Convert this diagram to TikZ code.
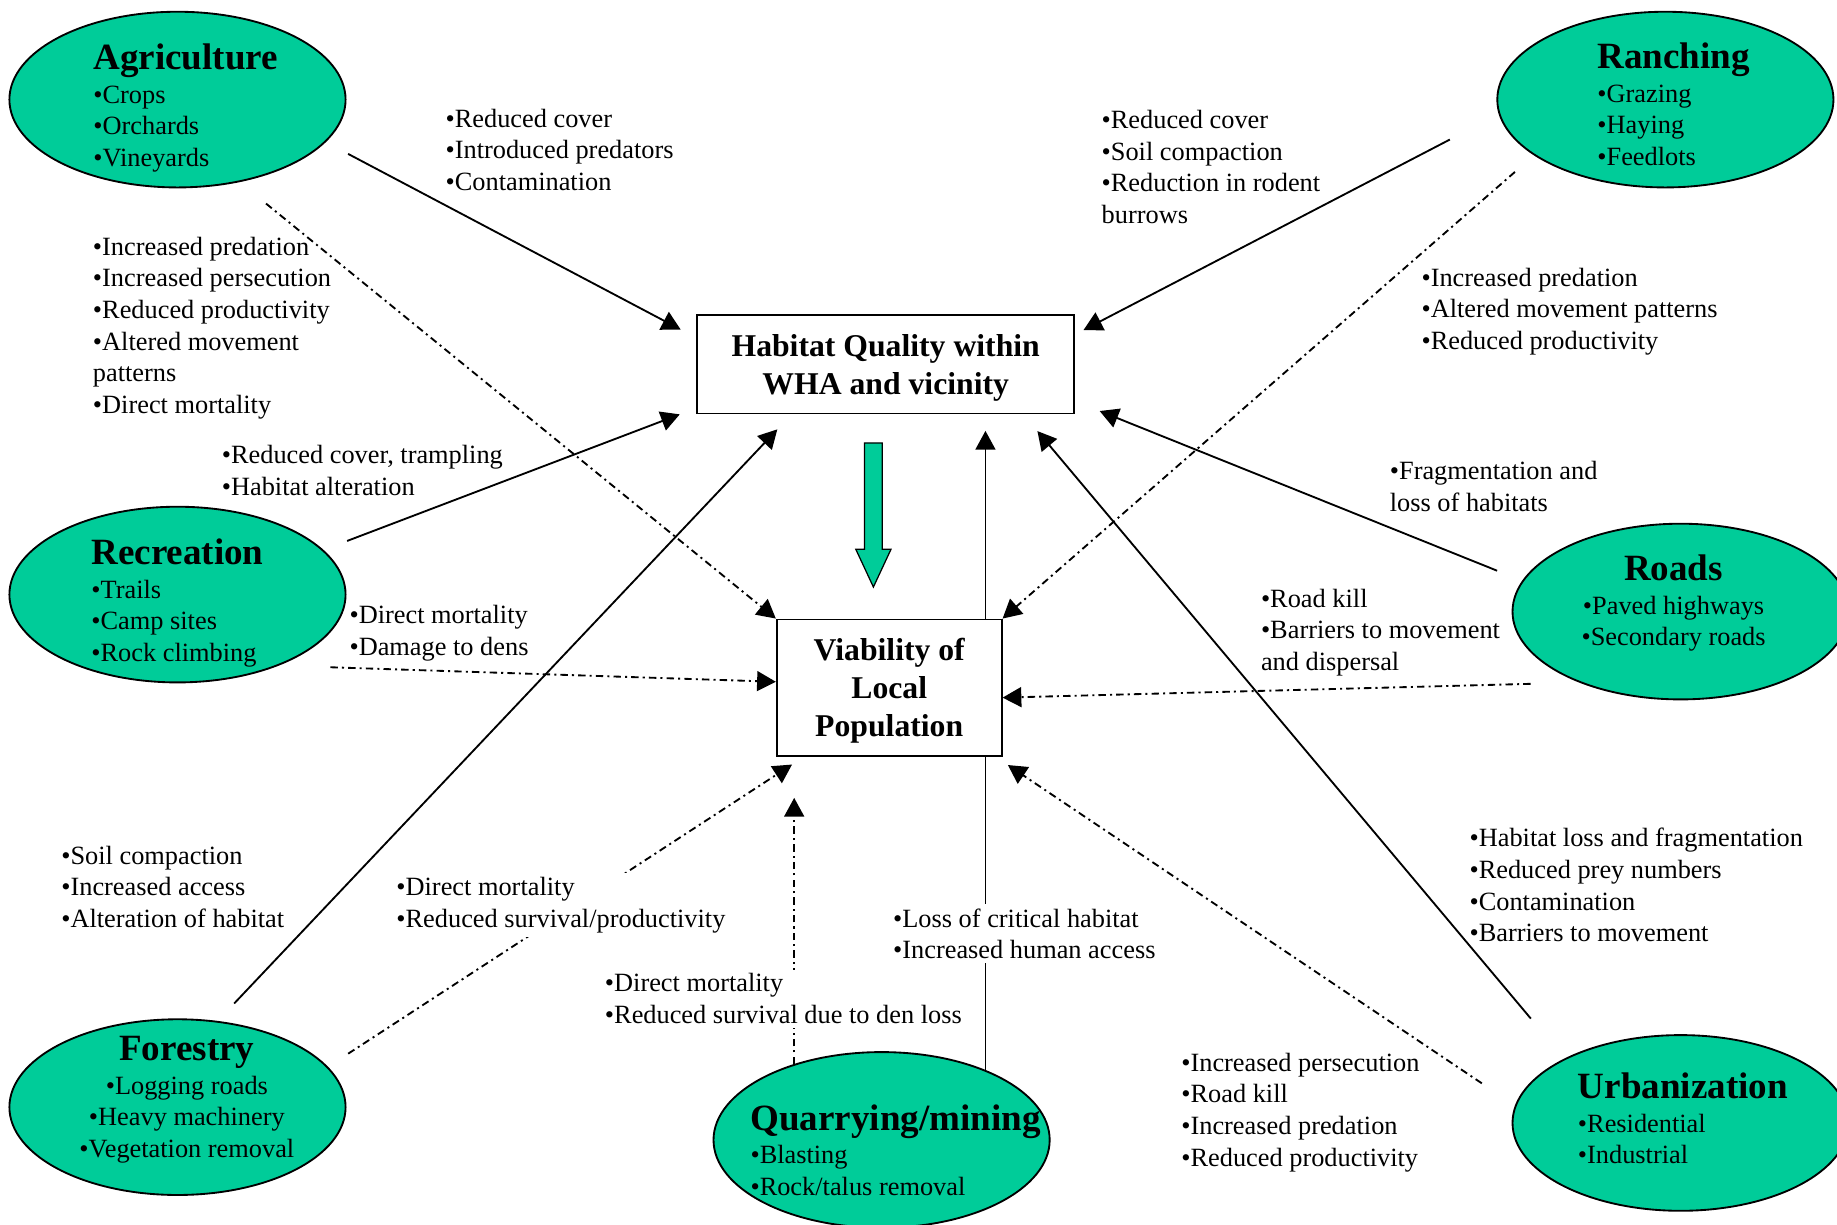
\documentclass[tikz,border=0pt]{standalone}
\usepackage{fontspec}
\setmainfont{Liberation Serif}
\usetikzlibrary{shapes.geometric,shapes.arrows,arrows.meta,backgrounds}

\definecolor{sectorgreen}{RGB}{0,204,153}
\newcommand{\sectorhead}[1]{{\fontsize{18}{18}\selectfont\bfseries #1}\\[1pt]}
\newcommand{\boxstrut}{\rule{0pt}{13.9pt}}

\begin{document}
\begin{tikzpicture}[
        x=0.02cm, y=-0.02cm,
        sector/.style={ellipse,draw,line width=0.9pt,fill=sectorgreen,
            minimum width=5.74cm,minimum height=3cm,inner sep=0pt},
        sectortext/.style={align=left,inner sep=0pt,
            font=\fontsize{12.8}{15.3}\selectfont},
        sectortextc/.style={sectortext,align=center},
        outcome/.style={rectangle,draw,line width=0.9pt,fill=white,align=center,
            inner sep=0pt,font=\fontsize{15.4}{18.3}\selectfont\bfseries},
        effect/.style={align=left,inner sep=0pt,anchor=west,
            font=\fontsize{12.8}{15.4}\selectfont},
        effectbg/.style={effect,fill=white,inner sep=2pt},
        tohab/.style={-{Triangle[length=3.2mm,width=3.4mm]},line width=0.9pt},
        toviab/.style={tohab,dash pattern=on 3.6pt off 2pt on 1pt off 2pt}
    ]
        \useasboundingbox (0,0) rectangle (1568,1045);

        % Central boxes
        \node[outcome,minimum width=6.44cm,minimum height=1.68cm] (habitat) at (756,311)
            {\boxstrut Habitat Quality within\\WHA and vicinity};
        \node[outcome,minimum width=3.84cm,minimum height=2.33cm] (viab) at (759,587)
            {\boxstrut Viability of\\Local\\Population};
        \node[single arrow,draw,fill=sectorgreen,line width=0.6pt,rotate=-90,
            minimum height=2.46cm,inner xsep=0pt,inner ysep=0.14cm,
            single arrow head extend=0.15cm,single arrow tip angle=50] (flow) at (745.5,431.5) {};

        % Land uses
        \node[sector] (agri) at (151.5,85) {};
        \node[sector] (ranch) at (1421.5,85) {};
        \node[sector] (recr) at (151.5,507.5) {};
        \node[sector] (roads) at (1434.5,522) {};
        \node[sector] (forest) at (151.5,945) {};
        \node[sector] (quarry) at (752.5,973) {};
        \node[sector] (urban) at (1434.5,958.5) {};

        \node[sectortext] (agrinote) at ([shift={(7,7)}]agri)
            {\sectorhead{Agriculture}•Crops\\•Orchards\\•Vineyards};
        \node[sectortext] (ranchnote) at ([shift={(7,4)}]ranch)
            {\sectorhead{Ranching}•Grazing\\•Haying\\•Feedlots};
        \node[sectortext] (recrnote) at ([shift={(0,7)}]recr)
            {\sectorhead{Recreation}•Trails\\•Camp sites\\•Rock climbing};
        \node[sectortextc] (roadsnote) at ([shift={(-6,-7)}]roads)
            {\sectorhead{Roads}•Paved highways\\•Secondary roads};
        \node[sectortextc] (forestnote) at ([shift={(8,-6.5)}]forest)
            {\sectorhead{Forestry}•Logging roads\\•Heavy machinery\\•Vegetation removal};
        \node[sectortext] (quarrynote) at ([shift={(12,8.5)}]quarry)
            {\sectorhead{Quarrying/mining}•Blasting\\•Rock/talus removal};
        \node[sectortext] (urbannote) at ([shift={(2,-4)}]urban)
            {\sectorhead{Urbanization}•Residential\\•Industrial};

        % Effects
        \node[effect] (agrihab) at (380,128) {•Reduced cover\\•Introduced predators\\•Contamination};
        \node[effect] (ranchhab) at (940,142.5) {•Reduced cover\\•Soil compaction\\•Reduction in rodent\\burrows};
        \node[effect] (agriviab) at (79,280) {•Increased predation\\•Increased persecution\\•Reduced productivity\\•Altered movement\\patterns\\•Direct mortality};
        \node[effect] (ranchviab) at (1213,266) {•Increased predation\\•Altered movement patterns\\•Reduced productivity};
        \node[effect] (recrhab) at (189,401.5) {•Reduced cover, trampling\\•Habitat alteration};
        \node[effect] (roadshab) at (1186,415) {•Fragmentation and\\loss of habitats};
        \node[effect] (recrviab) at (298,540.5) {•Direct mortality\\•Damage to dens};
        \node[effect] (roadsviab) at (1076,540) {•Road kill\\•Barriers to movement\\and dispersal};
        \node[effect] (foresthab) at (52,757) {•Soil compaction\\•Increased access\\•Alteration of habitat};
        \node[effectbg] (forestviab) at (334.5,772.5) {•Direct mortality\\•Reduced survival/productivity};
        \node[effectbg] (quarryhab) at (758.5,797) {•Loss of critical habitat\\•Increased human access};
        \node[effectbg] (quarryviab) at (512.5,852.5) {•Direct mortality\\•Reduced survival due to den loss};
        \node[effect] (urbanhab) at (1254,755.5) {•Habitat loss and fragmentation\\•Reduced prey numbers\\•Contamination\\•Barriers to movement};
        \node[effect] (urbanviab) at (1008,949.5) {•Increased persecution\\•Road kill\\•Increased predation\\•Reduced productivity};

        % Connectors, behind the boxes and labels
        \begin{pgfonlayer}{background}
            \draw[tohab,shorten <=0.43cm,shorten >=0.3cm] (agri.-16.6) -- (habitat.172);
            \draw[toviab,shorten <=0.58cm] (agri.-53.2) -- (viab.north west);
            \draw[tohab,shorten <=0.94cm,shorten >=0.16cm] (ranch.185) -- (habitat.9);
            \draw[toviab,shorten <=0.43cm] (ranch.-157.4) -- (viab.north east);
            \draw[tohab,shorten <=0.43cm,shorten >=0.3cm] (recr.17.4) -- (habitat.-167.9);
            \draw[toviab,shorten <=0.88cm] (recr.-35.3) -- (viab.177.3);
            \draw[tohab,shorten <=0.46cm,shorten >=0.45cm] (roads.169.4) -- (habitat.-11.2);
            \draw[toviab,shorten <=0.83cm] (roads.-145.2) -- (viab.-5.9);
            \draw[tohab,shorten <=0.41cm,shorten >=0.35cm] (forest.65.7) -- (habitat.-152.6);
            \draw[toviab,shorten <=0.41cm,shorten >=0.24cm] (forest.15.8) -- (viab.-141.1);
            \draw[toviab,shorten >=0.7cm] (quarry.139.8) -- (quarry.139.8 |- viab.south);
            \draw[tohab,shorten >=0.28cm] (quarry.34) -- (quarry.34 |- habitat.south);
            \draw[tohab,shorten <=0.89cm,shorten >=0.37cm] (urban.151.8) -- (habitat.-20);
            \draw[toviab,shorten <=0.68cm,shorten >=0.25cm] (urban.174.1) -- (viab.-33.8);
        \end{pgfonlayer}
\end{tikzpicture}
\end{document}
